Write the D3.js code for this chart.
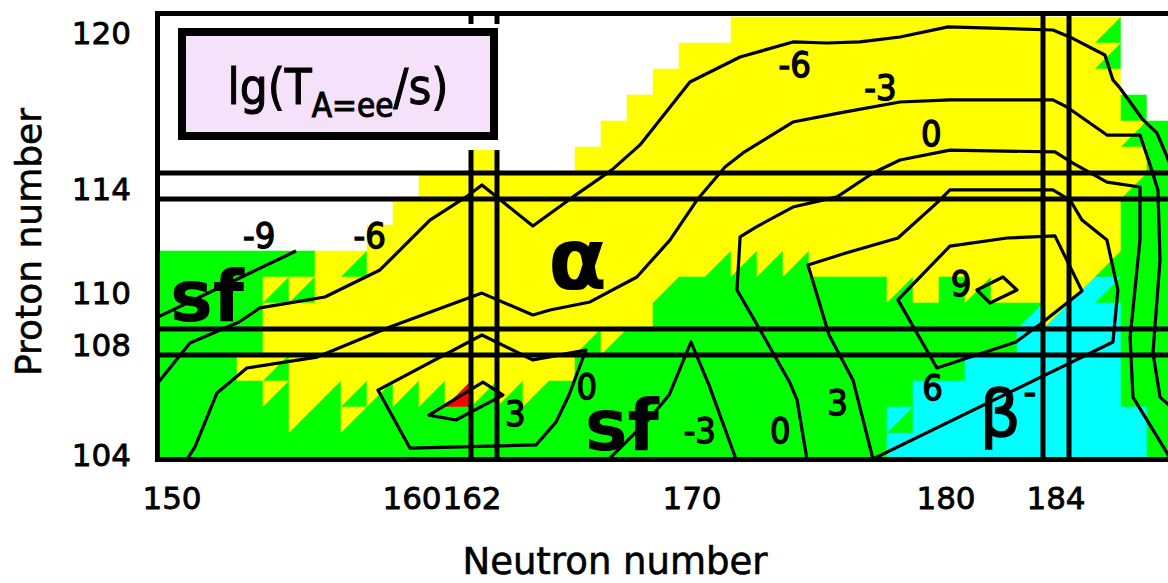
<!DOCTYPE html>
<html>
<head>
<meta charset="utf-8">
<script src="https://cdn.jsdelivr.net/npm/d3@7"></script>
<style>
  body { margin: 0; background: #fff; }
  svg { display: block; }
</style>
</head>
<body>
<div id="chart"></div>
<script>
// Width and height
var chart_width  = 1168;
var chart_height = 583;

// map range (cells are one nucleus wide)
var n_range = [150, 188];
var z_range = [104, 120];

// decay mode per cell, rows from Z=120 down to Z=104, N from 150
// w none, y alpha, g sf, c beta-, r red ; two letters = split cell (upper-left / lower-right)
var mode_rows = [
  "w*22 y*14 yg w*2",
  "w*20 y*16 yg w*2",
  "w*19 y*18 w*2",
  "w*18 y*19 g w",
  "w*17 y*20 yg g",
  "w*12 y w*3 y*22 g",
  "w*10 y*27 yg g",
  "w*9 y*28 g*2",
  "w*8 y*29 g*2",
  "g*6 y yg y*13 yg*4 y*11 yg g*2",
  "g*4 yg*2 y*13 yg g*8 yg y g yg y*3 yc cg g*2",
  "g*4 y*15 g*14 gc yc c*2 g*2",
  "g*4 y*12 yg*2 g*15 c*4 g*2",
  "g*3 y yg y*11 g*15 c*6 g*2",
  "g*4 yg y yg*5 yr yg*3 g*14 c*8 g*2",
  "g*5 yg g yg g*20 cg c*9 g",
  "g*28 c*10 g"
];

// lg(T) contour lines, points as [N, Z]
var contour_m9 = [[149.45,108.96],[154.77,111.5]];
var contour_m6 = [[149.45,106.42],[150.69,107.96],[152.58,108.77],[153.38,109.31],[155.88,109.73],
  [158.0,110.77],[159.92,112.69],[161.31,113.58],[161.92,114.04],[163.88,112.46],[165.42,113.58],
  [166.92,114.62],[168.0,115.58],[169.92,118.0],[171.85,118.96],[173.88,119.54],[175.19,119.5],
  [176.46,119.54],[178.0,119.73],[179.85,120.12],[183.88,120.0],[184.62,119.69],[185.88,119.04],
  [186.19,118.08],[186.46,117.77],[187.35,116.54],[187.88,116.04],[188.27,115.12],[188.77,113.85]];
var contour_m3 = [[150.58,103.5],[150.88,103.96],[151.73,106.04],[152.88,107.0],[155.58,107.42],
  [158.38,108.58],[161.92,109.88],[163.88,109.04],[164.54,109.23],[166.08,109.54],[167.88,110.5],
  [169.15,111.92],[170.19,113.46],[171.27,114.73],[171.96,115.27],[173.88,116.46],[175.69,116.81],
  [178.0,117.23],[179.92,117.31],[183.88,117.31],[184.42,117.04],[185.96,115.96],[187.23,115.96],
  [187.62,114.81],[187.92,113.85],[188.0,111.15],[187.73,107.58],[188.0,105.88],[188.58,105.38]];
var contour_m3_low = [[166.81,103.5],[168.35,105.04],[169.12,105.96],[169.96,108.0],[170.65,106.35],[171.69,103.5]];
var contour_0 = [[174.42,103.5],[174.04,105.77],[173.77,106.42],[172.73,108.27],[171.73,110.0],
  [171.85,112.04],[172.46,112.42],[173.88,113.19],[175.58,113.58],[176.96,114.5],[178.0,115.0],
  [179.92,115.38],[183.96,115.31],[184.65,114.88],[185.96,114.15],[187.23,113.96],[187.23,111.92],
  [186.85,108.19],[186.96,105.88],[188.27,103.73],[188.4,103.5]];
var contour_0_low = [[157.92,106.15],[161.92,108.27],[163.88,107.31],[165.92,107.69],[165.27,105.96],
  [164.77,104.92],[164.0,104.04],[159.15,103.92]];
var contour_3_low = [[159.88,105.19],[160.92,105.0],[162.73,105.96],[161.96,106.46]];
var contour_3 = [[176.96,103.5],[176.19,106.54],[175.27,108.27],[174.46,110.96],[175.92,111.42],
  [177.92,112.0],[179.42,113.35],[179.92,113.85],[183.88,113.85],[184.54,113.46],[185.0,112.69],
  [185.96,111.92],[186.38,110.0],[186.19,108.0]];
var contour_6 = [[177.92,109.62],[179.92,111.69],[182.12,112.0],[183.96,112.08],[185.0,109.96],
  [183.5,108.77],[182.46,108.0],[179.42,107.0]];
var contour_9 = [[180.96,110.0],[181.96,110.5],[182.5,110.0],[181.46,109.5]];

// contour labels: text, N, Z
var contour_labels = [
  ["-9", 153.35, 112.1], ["-6", 157.6, 112.1], ["-6", 173.95, 118.7], ["-3", 177.25, 117.8],
  ["0", 179.2, 116.05], ["9", 180.35, 110.25], ["6", 179.25, 106.25], ["3", 175.6, 105.7],
  ["0", 173.4, 104.6], ["-3", 170.3, 104.6], ["0", 165.95, 106.3], ["3", 163.2, 105.25]
];

// region labels: text, N, Z
var region_labels = [["sf", 151.35, 108.8], ["\u03b1", 165.6, 110.05], ["sf", 167.3, 103.85]];

var n_ticks = [150, 160, 162, 170, 180, 184];
var z_ticks = [104, 108, 110, 114, 120];
var magic_n = [162, 184];
var magic_z = [108, 114];

var colors = { w: "#ffffff", y: "#ffff00", g: "#00ff00", c: "#00ffff", r: "#ff0000" };

// scales: one cell = 26 px
var x = d3.scaleLinear().domain([149.5, 189.5]).range([159, 1199]);
var y = d3.scaleLinear().domain([103.5, 120.5]).range([459, 17]);

var svg = d3.select("#chart")
  .append("svg")
  .attr("width", chart_width)
  .attr("height", chart_height)
  .style("font-family", "'DejaVu Sans', sans-serif");

svg.append("defs").append("clipPath").attr("id", "plot")
  .append("rect").attr("x", 159).attr("y", 14).attr("width", 1040).attr("height", 445);

var plot = svg.append("g").attr("clip-path", "url(#plot)");

// expand "code*count" tokens
function expand(row) {
  var out = [];
  row.split(" ").forEach(function (tok) {
    var p = tok.split("*");
    var k = p.length > 1 ? +p[1] : 1;
    for (var i = 0; i < k; i++) out.push(p[0]);
  });
  return out;
}

var cells = [];
mode_rows.forEach(function (row, r) {
  expand(row).forEach(function (code, i) {
    cells.push({ n: n_range[0] + i, z: z_range[1] - r, code: code });
  });
});

var tri = [];
cells.forEach(function (d) {
  var x0 = x(d.n - 0.5), x1 = x(d.n + 0.5), y0 = y(d.z + 0.5), y1 = y(d.z - 0.5);
  if (d.code.length === 1) {
    tri.push({ pts: [[x0, y0], [x1, y0], [x1, y1], [x0, y1]], c: colors[d.code] });
  } else {
    tri.push({ pts: [[x0, y0], [x1, y0], [x0, y1]], c: colors[d.code[0]] });
    tri.push({ pts: [[x1, y0], [x1, y1], [x0, y1]], c: colors[d.code[1]] });
  }
});

plot.selectAll("polygon.cell")
  .data(tri)
  .enter()
  .append("polygon")
  .attr("class", "cell")
  .attr("points", function (d) { return d.pts.map(function (p) { return p.join(","); }).join(" "); })
  .attr("fill", function (d) { return d.c; })
  .attr("stroke", function (d) { return d.c; })
  .attr("stroke-width", 0.6);

// contours
var contours = [
  { pts: contour_m9, closed: false }, { pts: contour_m6, closed: false },
  { pts: contour_m3, closed: false }, { pts: contour_m3_low, closed: false },
  { pts: contour_0, closed: false }, { pts: contour_0_low, closed: true },
  { pts: contour_3_low, closed: true }, { pts: contour_3, closed: true },
  { pts: contour_6, closed: true }, { pts: contour_9, closed: true }
];

plot.selectAll("path.contour")
  .data(contours)
  .enter()
  .append("path")
  .attr("class", "contour")
  .attr("d", function (d) {
    return d3.line()
      .x(function (p) { return x(p[0]); })
      .y(function (p) { return y(p[1]); })
      .curve(d.closed ? d3.curveLinearClosed : d3.curveLinear)(d.pts);
  })
  .attr("fill", "none")
  .attr("stroke", "#000")
  .attr("stroke-width", 3.2)
  .attr("stroke-linejoin", "round");

// magic number lines
magic_z.forEach(function (z) {
  [z - 0.5, z + 0.5].forEach(function (v) {
    svg.append("line")
      .attr("x1", 155).attr("x2", chart_width)
      .attr("y1", y(v)).attr("y2", y(v))
      .attr("stroke", "#000").attr("stroke-width", 5);
  });
});
magic_n.forEach(function (n) {
  [n - 0.5, n + 0.5].forEach(function (v) {
    svg.append("line")
      .attr("x1", x(v)).attr("x2", x(v))
      .attr("y1", 11).attr("y2", 462)
      .attr("stroke", "#000").attr("stroke-width", 5);
  });
});

// frame (right side is cut off)
svg.append("path")
  .attr("d", "M" + chart_width + ",13.5H157.5V459.5H" + chart_width)
  .attr("fill", "none")
  .attr("stroke", "#000")
  .attr("stroke-width", 5);

// legend box with a white margin
svg.append("rect")
  .attr("x", 160).attr("y", 24).attr("width", 346).attr("height", 126)
  .attr("fill", "#fff");
svg.append("rect")
  .attr("x", 182).attr("y", 32).attr("width", 312).attr("height", 104)
  .attr("fill", "#f5e2fa")
  .attr("stroke", "#000")
  .attr("stroke-width", 8);

var leg = svg.append("text")
  .attr("x", 338).attr("y", 104)
  .attr("text-anchor", "middle")
  .attr("stroke", "#000").attr("stroke-width", 1)
  .style("font-family", "'DejaVu Sans Condensed', 'DejaVu Sans', sans-serif")
  .style("font-size", "49px");
leg.append("tspan").text("lg(T");
leg.append("tspan").attr("dy", 13).style("font-size", "33px").text("A=ee");
leg.append("tspan").attr("dy", -13).text("/s)");

// contour labels
svg.selectAll("text.clabel")
  .data(contour_labels)
  .enter()
  .append("text")
  .attr("class", "clabel")
  .attr("x", function (d) { return x(d[1]); })
  .attr("y", function (d) { return y(d[2]); })
  .attr("dy", "0.36em")
  .attr("text-anchor", "middle")
  .attr("stroke", "#000").attr("stroke-width", 1.3)
  .style("font-family", "'DejaVu Sans Condensed', 'DejaVu Sans', sans-serif")
  .style("font-size", "36px")
  .text(function (d) { return d[0]; });

// region labels
svg.selectAll("text.rlabel")
  .data(region_labels)
  .enter()
  .append("text")
  .attr("class", "rlabel")
  .attr("x", function (d) { return x(d[1]); })
  .attr("y", function (d) { return y(d[2]); })
  .attr("text-anchor", "middle")
  .style("font-weight", "bold")
  .style("font-size", function (d) { return d[0] === "sf" ? "72px" : "86px"; })
  .text(function (d) { return d[0]; });

svg.append("text")
  .attr("x", x(181.85)).attr("y", 436)
  .attr("text-anchor", "middle")
  .attr("stroke", "#000").attr("stroke-width", 1.5)
  .style("font-size", "64px")
  .text("\u03b2");
svg.append("text")
  .attr("x", x(183.0)).attr("y", 404)
  .attr("text-anchor", "middle")
  .attr("stroke", "#000").attr("stroke-width", 1.5)
  .style("font-size", "34px")
  .text("-");

// axes tick labels
var n_nudge = { 160: -20, 162: -12, 180: -6 };
svg.selectAll("text.ntick")
  .data(n_ticks)
  .enter()
  .append("text")
  .attr("class", "ntick")
  .attr("x", function (d) { return x(d) + (n_nudge[d] || 0); })
  .attr("y", 509)
  .attr("text-anchor", "middle")
  .attr("stroke", "#000").attr("stroke-width", 0.8)
  .style("font-size", "31px")
  .text(function (d) { return d; });

svg.selectAll("text.ztick")
  .data(z_ticks)
  .enter()
  .append("text")
  .attr("class", "ztick")
  .attr("x", 131)
  .attr("y", function (d) { return y(d) + 14 + (d === 104 ? 6 : 0); })
  .attr("text-anchor", "end")
  .attr("stroke", "#000").attr("stroke-width", 0.8)
  .style("font-size", "31px")
  .text(function (d) { return d; });

svg.append("text")
  .attr("x", 615).attr("y", 574)
  .attr("text-anchor", "middle")
  .attr("stroke", "#000").attr("stroke-width", 0.6)
  .style("font-size", "37px")
  .text("Neutron number");

svg.append("text")
  .attr("transform", "translate(41,242) rotate(-90)")
  .attr("text-anchor", "middle")
  .attr("stroke", "#000").attr("stroke-width", 0.6)
  .style("font-size", "36px")
  .text("Proton number");
</script>
</body>
</html>
